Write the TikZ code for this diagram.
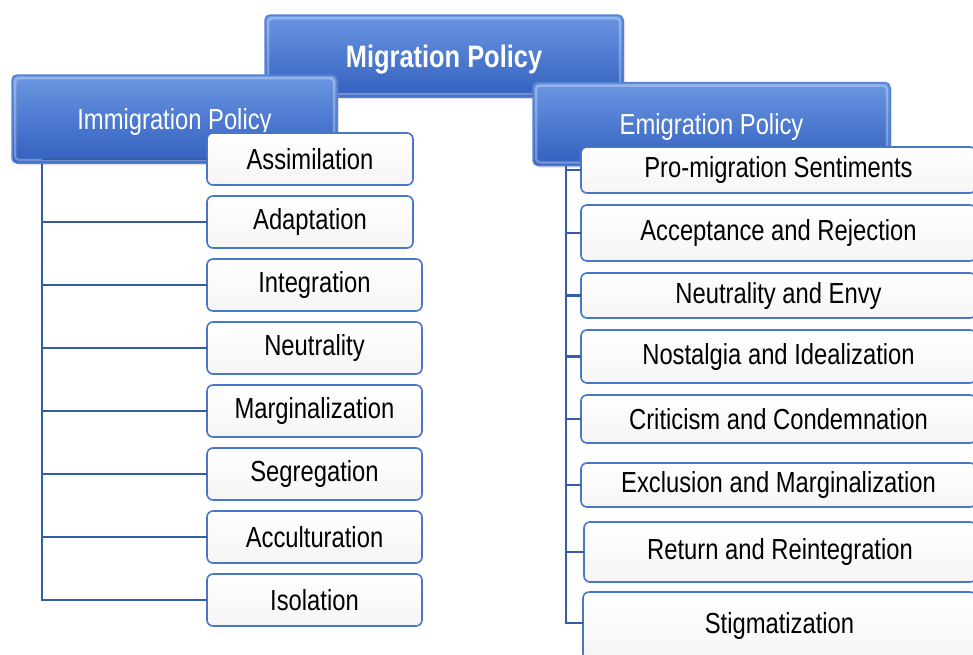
\documentclass[tikz,border=0pt]{standalone}
\usepackage{fontspec}
\setmainfont{Liberation Sans}[FakeStretch=0.82]
\usetikzlibrary{positioning, shadows}
\definecolor{mptop}{RGB}{106,150,226}
\definecolor{mpbot}{RGB}{50,96,190}
\definecolor{mpedge}{RGB}{84,130,212}
\definecolor{mpline}{RGB}{52,92,168}
\definecolor{mpitem}{RGB}{72,118,200}

\begin{document}
\begin{tikzpicture}[
		% global settings (pixel-like units, y pointing down)
		x=1pt, y=-1pt,
		font=\fontsize{29}{34}\selectfont,
		% styles
		head/.style={rectangle, draw=mpedge, line width=1.5pt, rounded corners=5pt, top color=mptop, bottom color=mpbot, text=white, inner sep=0pt, text depth=0pt, align=center,
			drop shadow={opacity=0.25, shadow xshift=2pt, shadow yshift=-2pt},
			path picture={\draw[white, opacity=0.3, line width=2.5pt, rounded corners=4pt] ([shift={(3pt,-3pt)}]path picture bounding box.north west) rectangle ([shift={(-3pt,3pt)}]path picture bounding box.south east);}},
		item/.style={rectangle, draw=mpitem, line width=1.6pt, rounded corners=6pt, top color=white, bottom color=black!4, text=black, inner sep=0pt, outer sep=0pt, minimum height=52pt, anchor=north west},
		link/.style={draw=mpline, line width=2.4pt}
		]
		
		\useasboundingbox (0,0) rectangle (973,654);
		\clip (0,0) rectangle (973,654);
		
		% ==========================================
		% Header boxes
		% ==========================================
		\node[head, minimum width=358pt, minimum height=82pt, font=\fontsize{31}{36}\selectfont\bfseries] (mig) at (444,56) {Migration Policy};
		\node[head, minimum width=325pt, minimum height=88pt] (imm) at (174.5,119) {Immigration Policy};
		\node[head, minimum width=357pt, minimum height=83pt] (emi) at (711.5,124) {Emigration Policy};
		
		% ==========================================
		% Immigration column
		% ==========================================
		\node[item, minimum width=206pt] (assim) at (207,133) {Assimilation};
		\node[item, minimum width=206pt, below=11pt of assim.south west, anchor=north west] (adapt) {Adaptation};
		\node[item, minimum width=215pt, below=11pt of adapt.south west, anchor=north west] (integ) {Integration};
		\node[item, minimum width=215pt, below=11pt of integ.south west, anchor=north west] (neutr) {Neutrality};
		\node[item, minimum width=215pt, below=11pt of neutr.south west, anchor=north west] (margin) {Marginalization};
		\node[item, minimum width=215pt, below=11pt of margin.south west, anchor=north west] (segreg) {Segregation};
		\node[item, minimum width=215pt, below=11pt of segreg.south west, anchor=north west] (accult) {Acculturation};
		\node[item, minimum width=215pt, below=11pt of accult.south west, anchor=north west] (isol) {Isolation};
		
		% ==========================================
		% Emigration column (runs past the right edge)
		% ==========================================
		\node[item, minimum width=395pt, minimum height=46pt] (promig) at (581,147) {Pro-migration Sentiments};
		\node[item, minimum width=395pt, minimum height=56pt, below=12pt of promig.south west, anchor=north west] (accept) {Acceptance and Rejection};
		\node[item, minimum width=395pt, minimum height=45pt, below=12pt of accept.south west, anchor=north west] (envy) {Neutrality and Envy};
		\node[item, minimum width=395pt, minimum height=53pt, below=12pt of envy.south west, anchor=north west] (nostal) {Nostalgia and Idealization};
		\node[item, minimum width=395pt, minimum height=48pt, below=12pt of nostal.south west, anchor=north west] (critic) {Criticism and Condemnation};
		\node[item, minimum width=395pt, minimum height=44pt, below=20pt of critic.south west, anchor=north west] (exclu) {Exclusion and Marginalization};
		\node[item, minimum width=392pt, minimum height=60pt, below=15pt of exclu.south west, anchor=north west, xshift=3pt] (retrn) {Return and Reintegration};
		\node[item, minimum width=393pt, minimum height=68pt, below=10pt of retrn.south west, anchor=north west, xshift=-1pt] (stigma) {Stigmatization};
		
		% ==========================================
		% Connectors
		% ==========================================
		\coordinate (trunkL) at ([xshift=31pt]imm.south west);
		\draw[link] (trunkL) |- (isol.west);
		\draw[link] (trunkL |- assim.west) -- (assim.west);
		\draw[link] (trunkL |- adapt.west) -- (adapt.west);
		\draw[link] (trunkL |- integ.west) -- (integ.west);
		\draw[link] (trunkL |- neutr.west) -- (neutr.west);
		\draw[link] (trunkL |- margin.west) -- (margin.west);
		\draw[link] (trunkL |- segreg.west) -- (segreg.west);
		\draw[link] (trunkL |- accult.west) -- (accult.west);
		
		\coordinate (trunkR) at ([xshift=34pt]emi.south west);
		\draw[link] (trunkR) |- ([yshift=3pt]stigma.west);
		\draw[link] (trunkR |- promig.west) -- (promig.west);
		\draw[link] (trunkR |- accept.west) -- (accept.west);
		\draw[link] (trunkR |- envy.west) -- (envy.west);
		\draw[link] (trunkR |- nostal.west) -- (nostal.west);
		\draw[link] (trunkR |- critic.west) -- (critic.west);
		\draw[link] (trunkR |- exclu.west) -- (exclu.west);
		\draw[link] (trunkR |- retrn.west) -- (retrn.west);
		
	\end{tikzpicture}
\end{document}
